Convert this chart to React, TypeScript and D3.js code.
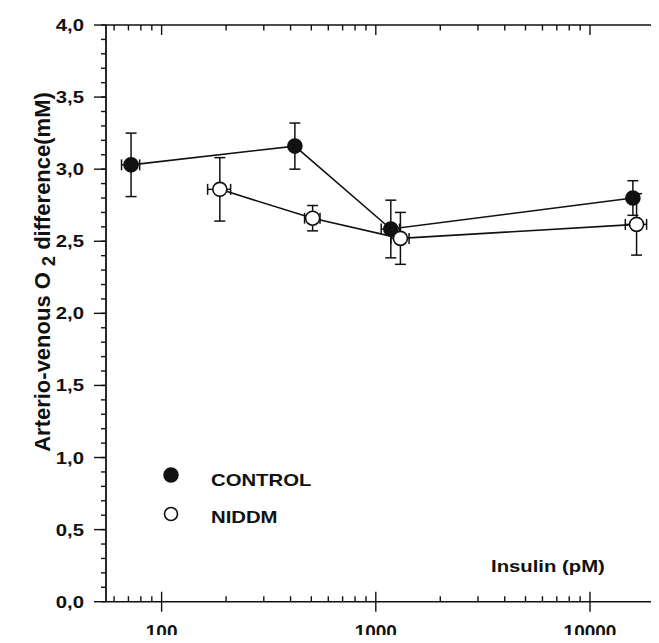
import React from "react";
import * as d3 from "d3";

// insulin (pM), A-V O2 difference (mM), SEMs
const controlInsulin = [72, 419, 1175, 15860];
const controlAV = [3.03, 3.16, 2.585, 2.8];
const controlAVErr = [0.22, 0.16, 0.2, 0.12];
const controlInsErr = [7, 0, 115, 0];

const niddmInsulin = [187, 507, 1303, 16500];
const niddmAV = [2.86, 2.66, 2.52, 2.617];
const niddmAVErr = [0.22, 0.088, 0.18, 0.213];
const niddmInsErr = [23, 42, 127, 1880];

const yTicks = [0, 0.5, 1, 1.5, 2, 2.5, 3, 3.5, 4];
const xMajor = [100, 1000, 10000];
const xMinor = [60, 70, 80, 90, 200, 300, 400, 500, 600, 700, 800, 900, 2000, 3000, 4000, 5000, 6000, 7000, 8000, 9000, 20000];

const W = 659;
const H = 643;
const FONT = "'Liberation Sans', Arial, Helvetica, sans-serif";

type Series = { name: string; x: number[]; y: number[]; ey: number[]; ex: number[]; filled: boolean };

const series: Series[] = [
  { name: "CONTROL", x: controlInsulin, y: controlAV, ey: controlAVErr, ex: controlInsErr, filled: true },
  { name: "NIDDM", x: niddmInsulin, y: niddmAV, ey: niddmAVErr, ex: niddmInsErr, filled: false },
];

// the scanned lettering is wider than Arial, so most labels get a sideways stretch
function Label({ x, y, anchor = "start", size = 16, stretch = 1.27, rotate = 0, children }: any) {
  return (
    <g transform={`translate(${x},${y}) rotate(${rotate}) scale(${stretch},1)`}>
      <text x={0} y={0} textAnchor={anchor} fontFamily={FONT} fontWeight="bold" fontSize={size} fill="#111">
        {children}
      </text>
    </g>
  );
}

export default function App() {
  const x = d3.scaleLog().domain([55, 21000]).range([106, 659]);
  const y = d3.scaleLinear().domain([0, 4]).range([601.7, 25]);
  const [x0, x1] = x.range();
  const yMinor = d3.range(0, 4.0001, 0.1);

  const line = d3
    .line<[number, number]>()
    .x((d) => x(d[0]))
    .y((d) => y(d[1]));

  const cap = 5.5;

  return (
    <div style={{ margin: -8, width: W, height: H, background: "#fff" }}>
      <svg width={W} height={H} style={{ display: "block" }}>
        <rect width={W} height={H} fill="#fff" />
        <g stroke="#111" fill="none" strokeWidth={1.4}>
          {/* frame */}
          <line x1={x0} x2={x1} y1={y(0)} y2={y(0)} strokeWidth={1.6} />
          <line x1={x0} x2={x1} y1={y(4)} y2={y(4)} strokeWidth={1.6} />
          <line x1={x0} x2={x0} y1={y(0)} y2={y(4)} strokeWidth={1.8} />
          {/* x ticks bottom & top */}
          {xMajor.map((t) => (
            <g key={"M" + t}>
              <line x1={x(t)} x2={x(t)} y1={y(0) - 10} y2={y(0) + 10} />
              <line x1={x(t)} x2={x(t)} y1={y(4)} y2={y(4) + 10} />
            </g>
          ))}
          {xMinor.map((t) => (
            <g key={"m" + t}>
              <line x1={x(t)} x2={x(t)} y1={y(0)} y2={y(0) - 5.5} />
              <line x1={x(t)} x2={x(t)} y1={y(4)} y2={y(4) + 5.5} />
            </g>
          ))}
          {/* y ticks */}
          {yMinor.map((t) => (
            <line key={"ym" + t.toFixed(1)} x1={x0 - 5} x2={x0} y1={y(t)} y2={y(t)} />
          ))}
          {yTicks.map((t) => (
            <line key={"yM" + t} x1={x0 - 12} x2={x0} y1={y(t)} y2={y(t)} />
          ))}
        </g>

        {yTicks.map((t) => (
          <Label key={"yl" + t} x={84} y={y(t) + 6} anchor="end">
            {d3.format(".1f")(t).replace(".", ",")}
          </Label>
        ))}
        {xMajor.map((t) => (
          <Label key={"xl" + t} x={x(t)} y={638} anchor="middle" size={19} stretch={1}>
            {t}
          </Label>
        ))}

        <Label x={50} y={272} anchor="middle" size={22} stretch={1} rotate={-90}>
          Arterio-venous O <tspan dy={5} fontSize={18}>2</tspan>
          <tspan dy={-5}> difference(mM)</tspan>
        </Label>
        <Label x={491} y={572}>Insulin (pM)</Label>

        {/* series lines */}
        {series.map((s) => (
          <path
            key={"l" + s.name}
            d={line(s.x.map((v, i) => [v, s.y[i]] as [number, number])) || ""}
            fill="none"
            stroke="#111"
            strokeWidth={1.6}
          />
        ))}

        {series.map((s) => (
          <g key={"p" + s.name} stroke="#111" strokeWidth={1.5}>
            {s.x.map((v, i) => {
              const cx = x(v);
              const cy = y(s.y[i]);
              const yt = y(s.y[i] + s.ey[i]);
              const yb = y(s.y[i] - s.ey[i]);
              const xl = x(v - s.ex[i]);
              const xr = x(v + s.ex[i]);
              return (
                <g key={i}>
                  <line x1={cx} x2={cx} y1={yt} y2={yb} />
                  <line x1={cx - cap} x2={cx + cap} y1={yt} y2={yt} />
                  <line x1={cx - cap} x2={cx + cap} y1={yb} y2={yb} />
                  {s.ex[i] > 0 && (
                    <>
                      <line x1={xl} x2={xr} y1={cy} y2={cy} />
                      <line x1={xl} x2={xl} y1={cy - cap} y2={cy + cap} />
                      <line x1={xr} x2={xr} y1={cy - cap} y2={cy + cap} />
                    </>
                  )}
                  <circle cx={cx} cy={cy} r={7} fill={s.filled ? "#111" : "#fff"} strokeWidth={1.6} />
                </g>
              );
            })}
          </g>
        ))}

        {/* legend */}
        <circle cx={171} cy={475} r={7} fill="#111" stroke="#111" strokeWidth={1.5} />
        <Label x={211} y={486}>CONTROL</Label>
        <circle cx={171} cy={514} r={6.5} fill="#fff" stroke="#111" strokeWidth={1.6} />
        <Label x={211} y={523}>NIDDM</Label>
      </svg>
    </div>
  );
}
